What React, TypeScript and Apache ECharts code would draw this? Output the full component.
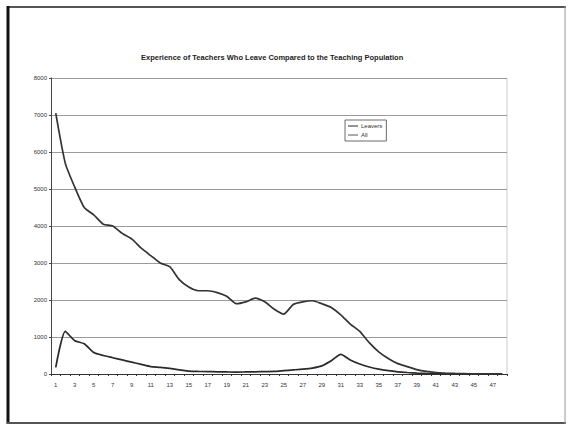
import React, { useEffect, useRef } from "react";
import * as echarts from "echarts";

// Years of teaching experience
const years: string[] = Array.from({ length: 48 }, (_, i) => String(i + 1));

// Teachers who left, by years of experience
const leavers: number[] = [
  180, 1150, 900, 820, 580, 500, 440, 380, 320, 260,
  200, 180, 150, 110, 80, 70, 65, 60, 55, 50,
  55, 60, 65, 70, 90, 110, 130, 160, 220, 360,
  530, 380, 270, 190, 130, 90, 60, 40, 25, 15,
  10, 6, 4, 3, 2, 1, 1, 0,
];

// Whole teaching population, by years of experience
const all: number[] = [
  7050, 5700, 5050, 4500, 4300, 4050, 4000, 3800, 3650, 3400,
  3200, 3000, 2900, 2550, 2350, 2250, 2250, 2200, 2100, 1900,
  1950, 2050, 1950, 1750, 1620, 1880, 1950, 1980, 1900, 1800,
  1600, 1350, 1150, 850, 600, 420, 280, 200, 120, 70,
  40, 25, 15, 10, 5, 3, 2, 1,
];

const yTicks = { min: 0, max: 8000, interval: 1000 };

export default function App() {
  const ref = useRef<HTMLDivElement>(null);

  useEffect(() => {
    if (!ref.current) return;
    const chart = echarts.init(ref.current, null, { renderer: "svg" });
    const font = "'Liberation Sans', Arial, sans-serif";
    chart.setOption({
      animation: false,
      backgroundColor: "#ffffff",
      title: {
        text: "Experience of Teachers Who Leave Compared to the Teaching Population",
        left: 136,
        top: 48,
        textStyle: { fontSize: 7.5, fontWeight: "bold", color: "#222", fontFamily: font },
      },
      legend: {
        orient: "vertical",
        left: 345,
        top: 120,
        padding: [3, 4, 3, 3],
        itemGap: 3,
        itemWidth: 10,
        itemHeight: 6,
        borderColor: "#444",
        borderWidth: 0.8,
        textStyle: { fontSize: 6, color: "#333", fontFamily: font, padding: [0, 0, 0, -2] },
        data: [
          { name: "Leavers", icon: "path://M0,3L10,3L10,4L0,4Z" },
          { name: "All", icon: "path://M0,3L10,3L10,4L0,4Z" },
        ],
      },
      grid: { left: 51, right: 62, top: 78, bottom: 52, containLabel: false },
      xAxis: {
        type: "category",
        data: years,
        boundaryGap: true,
        axisLine: { lineStyle: { color: "#333", width: 1 } },
        axisTick: { show: true, interval: 0, length: 2, lineStyle: { color: "#333" } },
        axisLabel: { interval: 1, fontSize: 6, color: "#333", fontFamily: font, margin: 8 },
      },
      yAxis: {
        type: "value",
        min: yTicks.min,
        max: yTicks.max,
        interval: yTicks.interval,
        axisLine: { show: true, lineStyle: { color: "#444", width: 1 } },
        axisTick: { show: true, length: 2, lineStyle: { color: "#444" } },
        axisLabel: {
          fontSize: 6,
          color: "#333",
          fontFamily: font,
          margin: 4,
          formatter: (v: number) => String(v),
        },
        splitLine: { show: true, lineStyle: { color: "#9a9a9a", width: 1 } },
      },
      series: [
        {
          name: "Leavers",
          type: "line",
          data: leavers,
          symbol: "none",
          smooth: 0.2,
          lineStyle: { color: "#2a2a2a", width: 1.7 },
          itemStyle: { color: "#2a2a2a" },
        },
        {
          name: "All",
          type: "line",
          data: all,
          symbol: "none",
          smooth: 0.2,
          lineStyle: { color: "#333333", width: 1.7 },
          itemStyle: { color: "#555555" },
        },
      ],
      graphic: [
        { type: "line", shape: { x1: 7, y1: 7, x2: 566, y2: 7 }, style: { stroke: "#555", lineWidth: 2 } },
        { type: "line", shape: { x1: 8, y1: 6, x2: 8, y2: 424 }, style: { stroke: "#111", lineWidth: 3 } },
        { type: "line", shape: { x1: 7, y1: 423, x2: 566, y2: 423 }, style: { stroke: "#555", lineWidth: 2 } },
        { type: "line", shape: { x1: 565, y1: 6, x2: 565, y2: 424 }, style: { stroke: "#999", lineWidth: 1 } },
        { type: "line", shape: { x1: 507, y1: 78, x2: 507, y2: 374 }, style: { stroke: "#ccc", lineWidth: 1 } },
      ],
    });
    return () => chart.dispose();
  }, []);

  return (
    <div
      ref={ref}
      style={{ position: "absolute", left: 0, top: 0, width: 569, height: 426 }}
    />
  );
}
